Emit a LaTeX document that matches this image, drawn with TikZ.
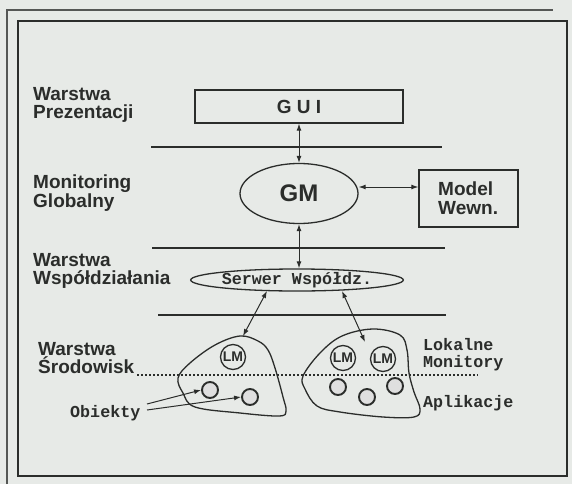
\documentclass[tikz,border=0pt]{standalone}
\usepackage{fontspec}
\setmainfont{Liberation Sans}
\setmonofont{Liberation Mono}
\usetikzlibrary{arrows.meta,shapes.geometric}
\definecolor{paper}{HTML}{E7EAE7}
\definecolor{ink}{HTML}{2B2D2B}
\tikzset{
  lbl/.style={font=\fontsize{19}{18.5}\selectfont\bfseries, text=ink, anchor=west, align=left, inner sep=0pt},
  mono/.style={font=\fontsize{16.7}{16.5}\selectfont\ttfamily\bfseries, text=ink, anchor=west, align=left, inner sep=0pt},
  layerline/.style={draw=ink, line width=1.7pt},
  conn/.style={draw=ink, line width=1pt, {Latex[length=7pt,width=5pt]}-{Latex[length=7pt,width=5pt]}},
  oneway/.style={draw=ink, line width=1pt, -{Latex[length=7pt,width=5pt]}},
  blob/.style={draw=ink, line width=1.3pt},
  lmcirc/.style={circle, draw=ink, line width=1.3pt, minimum size=25pt, inner sep=0pt, font=\fontsize{14}{14}\selectfont\bfseries, text=ink},
  objcirc/.style={circle, draw=ink, line width=1.9pt, minimum size=16pt, inner sep=0pt, fill=gray!25}
}
\begin{document}
\begin{tikzpicture}[x=1pt,y=-1pt]
\useasboundingbox (0,0) rectangle (572,484);
\fill[paper] (0,0) rectangle (572,484);
% frames
\draw[ink!80, line width=1.3pt] (7,484) -- (7,10) -- (553,10);
\draw[ink, line width=1.6pt] (18,21) rectangle (567,476);

% layer labels
\node[lbl] (lpres) at (33,105) {Warstwa\\Prezentacji};
\node[lbl] (lmon) at (33,193) {Monitoring\\Globalny};
\node[lbl] (lwsp) at (33,271) {Warstwa\\Współdziałania};
\node[lbl] (lsrod) at (38,358) {Warstwa\\Środowisk};

% GUI
\node[draw=ink, line width=1.3pt, minimum width=208pt, minimum height=33pt, inner sep=0pt,
      font=\fontsize{19}{18}\selectfont\bfseries, text=ink] (gui) at (299,106.5) {G U I};
% GM
\node[ellipse, draw=ink, line width=1.3pt, minimum width=118pt, minimum height=60pt, inner sep=0pt,
      font=\fontsize{24}{24}\selectfont\bfseries, text=ink] (gm) at (299,193.5) {GM};
% Model
\node[draw=ink, line width=1.3pt, minimum width=99pt, minimum height=57pt, inner sep=0pt] (model) at (468.5,198.5) {};
\node[lbl] (modeltxt) at (438,198) {Model\\Wewn.};
% Serwer
\node[ellipse, draw=ink, line width=1.3pt, minimum width=194pt, minimum height=22pt, inner sep=0pt,
      font=\fontsize{16.7}{16.5}\selectfont\ttfamily\bfseries, text=ink] (serwer) at (297,280) {Serwer Współdz.};

% layer lines
\draw[layerline] (151,147) coordinate (l1a) -- (442,147) coordinate (l1b);
\draw[layerline] (152,248) coordinate (l2a) -- (445,248) coordinate (l2b);
\draw[layerline] (158,315) coordinate (l3a) -- (446,315) coordinate (l3b);
\draw[ink, line width=1.1pt, dash pattern=on 2pt off 2pt] (137,375) coordinate (dla) -- (478,375) coordinate (dlb);

% connectors
\draw[conn] (gui.south -| gm.north) -- (gm.north);
\draw[conn] (gm.east |- 0,187) -- (model.west |- 0,187);
\draw[conn] (gm.south) -- (serwer.north -| gm.south);

% blobs
\draw[blob] plot[smooth cycle, tension=0.6] coordinates {(240,336) (258,341) (268,350) (275,368) (283,397) (286,411) (279,416) (240,413) (195,407) (183,393) (178,378) (190,363) (215,345)};
\draw[blob] plot[smooth cycle, tension=0.6] coordinates {(373,329) (400,335) (407,350) (409,373) (414,392) (420,409) (414,417) (383,417) (340,412) (317,406) (305,389) (303,376) (320,353) (342,336)};
\coordinate (bltop) at (243,336);
\coordinate (brin) at (365,342);
\coordinate (sl) at (267,291);
\coordinate (sr) at (342,291);
\draw[conn] (sl) -- (bltop);
\draw[conn] (sr) -- (brin);

% local monitors
\node[lmcirc] (lm1) at (233,357) {LM};
\node[lmcirc] (lm2) at (343,358) {LM};
\node[lmcirc] (lm3) at (383,359) {LM};

% objects
\node[objcirc] (o1) at (210,390) {};
\node[objcirc] (o2) at (250,397) {};
\node[objcirc] (o3) at (338,387) {};
\node[objcirc] (o4) at (367,397) {};
\node[objcirc] (o5) at (395,386) {};

% right labels
\node[mono] (lok) at (423,354.5) {Lokalne\\Monitory};
\node[mono] (apl) at (423,403) {Aplikacje};
\node[mono] (obj) at (70,413) {Obiekty};
\coordinate (oa) at (147,404);
\coordinate (ob) at (147,410);
\draw[oneway] (oa) -- (o1.west);
\draw[oneway] (ob) -- (o2.west);
\end{tikzpicture}
\end{document}
